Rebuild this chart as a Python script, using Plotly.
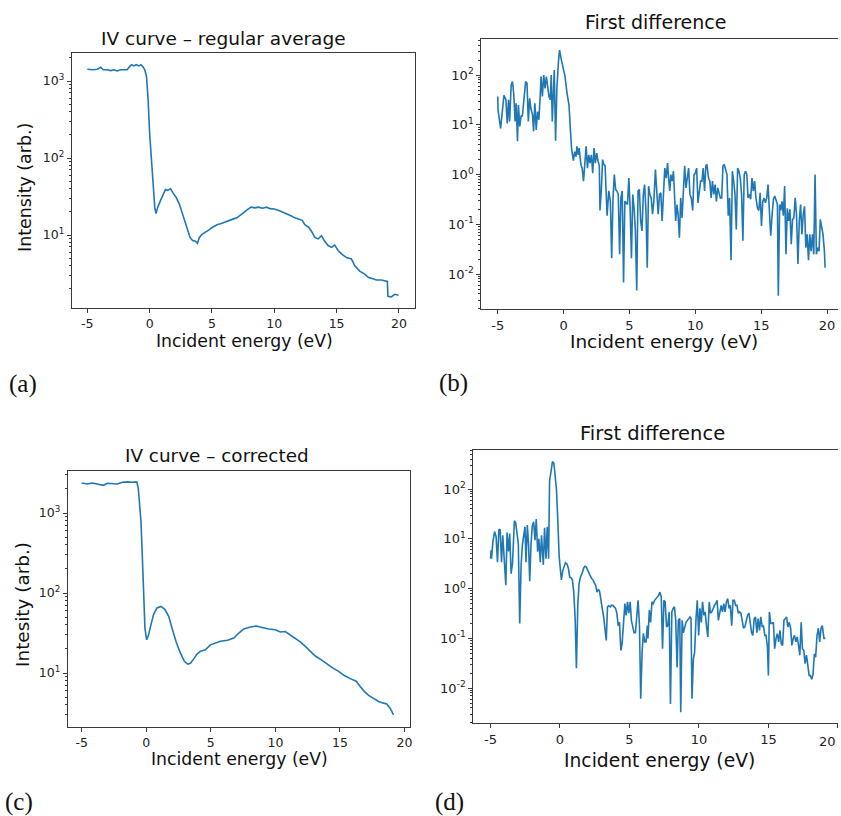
import plotly.graph_objects as go

# ---------------- data ----------------
# (a) IV curve - regular average
a_energy = [-5.0, -4.81, -4.55, -4.2, -3.93, -3.72, -3.4, -3.13, -2.87, -2.6, -2.33, -2.07, -1.8,
            -1.61, -1.45, -1.27, -1.08, -0.87, -0.71, -0.55, -0.39, -0.25, -0.12, 0.0, 0.13, 0.27,
            0.41, 0.51, 0.65, 0.87, 1.08, 1.27, 1.45, 1.67, 1.88, 2.12, 2.39, 2.65, 2.87, 3.05, 3.24,
            3.45, 3.67, 3.83, 3.99, 4.2, 4.47, 4.73, 5.05, 5.4, 5.75, 6.07, 6.39, 6.73, 7.0, 7.27,
            7.44, 7.79, 8.13, 8.45, 8.72, 9.04, 9.39, 9.65, 10.0, 10.32, 10.64, 10.99, 11.33, 11.65,
            11.97, 12.24, 12.45, 12.77, 13.04, 13.25, 13.52, 13.79, 14.0, 14.32, 14.59, 14.85, 15.12,
            15.44, 15.79, 16.19, 16.45, 16.85, 17.25, 17.57, 17.92, 18.19, 18.59, 18.99, 19.07, 19.12,
            19.39, 19.65, 19.97]
a_intensity = [1420, 1400, 1400, 1420, 1510, 1400, 1400, 1365, 1400, 1350, 1400, 1400, 1400,
               1540, 1630, 1570, 1630, 1570, 1630, 1540, 1400, 1140, 565, 208, 93, 42,
               23, 19, 23, 28, 34, 39, 38, 40, 35, 31, 25, 18.7, 15, 11.5, 9.3,
               8.5, 8.3, 7.8, 9.3, 10.2, 10.8, 11.6, 12.6, 13.6, 14.1, 14.8, 15.7, 16.2, 16.7, 17.8,
               19, 21, 23, 22.5, 23, 22.3, 23, 22, 21.8, 21, 20, 18.7, 17.8, 16.7,
               16.2, 15.5, 13.6, 12.6, 10.8, 9.3, 8.9, 9.8, 8.5, 7.3, 6.9, 7.4, 6.3,
               5.6, 5.1, 4.9, 4.0, 3.4, 3.1, 2.8, 2.7, 2.6, 2.6, 2.55, 2.5, 1.6,
               1.57, 1.7, 1.65]

# (b) first difference of (a)
b_energy = [-5.0, -4.98, -4.78, -4.63, -4.53, -4.38, -4.28, -4.18, -4.1, -3.98, -3.88, -3.78, -3.68,
            -3.6, -3.5, -3.43, -3.33, -3.23, -3.13, -3.03, -2.88, -2.78, -2.68, -2.58, -2.48, -2.36,
            -2.28, -2.18, -2.08, -1.98, -1.88, -1.78, -1.71, -1.61, -1.51, -1.41, -1.31, -1.21, -1.11,
            -1.01, -0.94, -0.86, -0.79, -0.71, -0.61, -0.51, -0.39, -0.31, -0.19, -0.04, 0.11, 0.26,
            0.41, 0.51, 0.61, 0.74, 0.84, 0.94, 1.01, 1.11, 1.18, 1.31, 1.41, 1.51, 1.61, 1.71, 1.81,
            1.91, 2.01, 2.11, 2.21, 2.31, 2.41, 2.51, 2.61, 2.71, 2.76, 2.86, 2.96, 3.05, 3.15, 3.2,
            3.3, 3.43, 3.55, 3.65, 3.75, 3.85, 3.95, 4.05, 4.15, 4.25, 4.35, 4.45, 4.55, 4.65, 4.75,
            4.85, 4.95, 5.05, 5.15, 5.25, 5.35, 5.45, 5.55, 5.65, 5.75, 5.85, 5.95, 6.05, 6.15, 6.25,
            6.35, 6.45, 6.55, 6.65, 6.75, 6.85, 6.97, 7.08, 7.18, 7.28, 7.38, 7.48, 7.58, 7.68, 7.79,
            7.89, 7.99, 8.06, 8.14, 8.24, 8.34, 8.44, 8.51, 8.61, 8.69, 8.79, 8.89, 8.99, 9.09, 9.19,
            9.29, 9.39, 9.49, 9.59, 9.69, 9.8, 9.9, 10.0, 10.1, 10.2, 10.3, 10.4, 10.5, 10.6, 10.7,
            10.8, 10.88, 11.0, 11.1, 11.2, 11.3, 11.4, 11.5, 11.6, 11.7, 11.8, 11.9, 12.0, 12.1, 12.2,
            12.3, 12.4, 12.5, 12.6, 12.71, 12.81, 12.91, 13.01, 13.11, 13.21, 13.31, 13.41, 13.51,
            13.61, 13.71, 13.81, 13.91, 14.0, 14.1, 14.2, 14.3, 14.4, 14.5, 14.6, 14.72, 14.82, 14.92,
            15.02, 15.12, 15.22, 15.32, 15.42, 15.52, 15.62, 15.72, 15.83, 15.93, 16.03, 16.13, 16.23,
            16.3, 16.4, 16.48, 16.58, 16.68, 16.78, 16.88, 16.98, 17.08, 17.18, 17.28, 17.38, 17.48,
            17.58, 17.68, 17.79, 17.89, 17.99, 18.09, 18.19, 18.29, 18.39, 18.49, 18.59, 18.69, 18.79,
            18.89, 18.99, 19.09, 19.19, 19.29, 19.39, 19.49, 19.59, 19.69, 19.8, 19.85]
b_diff = [37, 20, 8.5, 27, 39, 32, 10.7, 32, 11.7, 63, 74, 40, 11.7,
          27, 4.7, 25, 9.3, 15, 15, 29, 74, 68, 11.7, 34, 21, 16,
          7.4, 27, 7.9, 18.5, 12.6, 36, 93, 37, 100, 54, 93, 59, 37,
          32, 100, 11.7, 40, 126, 4.8, 54, 186, 316, 214, 148, 93, 43,
          25, 8.5, 3.2, 1.9, 2.9, 2.3, 3.7, 2.5, 3.4, 1.6, 1.35, 0.74, 1.5, 3.7, 1.35,
          2.5, 1.7, 2.5, 1.07, 3.4, 1.7, 2.7, 1.9, 1.5, 0.19, 0.47, 2.0, 1.6, 1.5, 0.85,
          0.15, 0.47, 0.29, 0.021, 0.34, 1.0, 0.5, 0.47, 0.4, 0.025, 0.34, 0.47, 0.0068, 0.29, 0.27,
          0.25, 0.85, 0.21, 0.021, 0.4, 0.21, 0.074, 0.0047, 0.47, 0.5, 0.117, 0.074, 0.4, 0.63, 0.19,
          0.0135, 0.59, 0.4, 0.34, 0.16, 0.29, 1.26, 0.47, 0.16, 0.4, 0.43, 0.117, 0.47, 1.35, 0.85,
          1.7, 0.74, 0.47, 1.0, 0.74, 1.17, 0.4, 0.117, 0.25, 0.16, 0.054, 0.34, 0.135, 0.47, 1.5,
          0.54, 0.85, 1.35, 0.4, 0.34, 0.19, 1.0, 1.07, 1.35, 0.27, 0.47, 0.74, 0.74, 1.35, 0.47,
          1.5, 1.6, 0.85, 0.74, 0.34, 0.74, 0.4, 0.63, 0.29, 0.54, 0.4, 0.34, 0.34, 1.5, 1.6,
          1.17, 1.0, 0.15, 0.34, 0.019, 1.17, 0.74, 0.4, 0.079, 1.35, 1.17, 0.85, 0.4,
          0.047, 1.0, 1.17, 1.0, 0.34, 0.4, 0.32, 0.85, 0.47, 0.74, 0.34, 0.21, 0.19, 0.43,
          0.093, 0.29, 0.34, 0.27, 0.34, 0.63, 0.25, 0.059, 0.16, 0.32, 0.37, 0.29, 0.25,
          0.0037, 0.25, 0.19, 0.29, 0.15, 0.59, 0.025, 0.21, 0.117, 0.2, 0.04, 0.126, 0.135,
          0.34, 0.16, 0.016, 0.117, 0.25, 0.063, 0.16, 0.23, 0.034, 0.063, 0.019, 0.063, 0.029,
          0.063, 0.025, 1.0, 0.025, 0.034, 0.029, 0.126, 0.093, 0.063, 0.029, 0.0135]

# (c) IV curve - corrected
c_energy = [-5.0, -4.56, -4.17, -3.79, -3.32, -3.01, -2.62, -2.24, -1.85, -1.46, -1.08, -0.74, -0.62,
            -0.52, -0.41, -0.31, -0.21, -0.1, 0.03, 0.18, 0.36, 0.57, 0.83, 1.14, 1.45, 1.74, 2.0,
            2.33, 2.64, 2.95, 3.21, 3.42, 3.68, 3.93, 4.2, 4.58, 4.97, 5.36, 5.75, 6.29, 6.78, 7.17,
            7.55, 8.07, 8.53, 8.97, 9.48, 10.0, 10.39, 10.77, 11.16, 11.55, 11.93, 12.32, 12.71, 13.09,
            13.53, 14.0, 14.46, 14.9, 15.34, 15.8, 16.26, 16.57, 16.88, 17.22, 17.6, 17.99, 18.38,
            18.63, 18.9, 19.15]
c_intensity = [2370, 2300, 2370, 2300, 2220, 2350, 2350, 2300, 2420, 2450, 2420, 2450, 2050,
               1400, 790, 302, 95, 36, 26, 30, 40, 54, 65, 68, 62, 51, 36,
               24, 17.8, 14, 12.9, 13.2, 15, 17.3, 18.7, 19.5, 22.5, 23.7, 25, 25.7, 27.4, 31.6,
               35.5, 37.6, 38.7, 37, 35.5, 34.8, 32.5, 33, 30, 27.4, 24.5, 21.5, 18.7, 16.3,
               14.7, 12.9, 11.5, 10.5, 9.3, 8.5, 7.9, 6.8, 5.9, 5.25, 4.8, 4.4, 4.2,
               4.1, 3.6, 3.0]

# (d) first difference of (c)
d_energy = [-5.0, -4.96, -4.93, -4.83, -4.71, -4.6, -4.5, -4.4, -4.31, -4.21, -4.12, -4.02, -3.9,
            -3.81, -3.71, -3.62, -3.52, -3.42, -3.35, -3.28, -3.19, -3.09, -3.0, -2.9, -2.8, -2.71,
            -2.61, -2.52, -2.45, -2.35, -2.26, -2.18, -2.09, -2.0, -1.9, -1.8, -1.71, -1.61, -1.52,
            -1.42, -1.33, -1.2, -1.11, -1.01, -0.92, -0.82, -0.75, -0.66, -0.54, -0.44, -0.35, -0.25,
            -0.16, -0.06, 0.04, 0.1, 0.2, 0.3, 0.39, 0.51, 0.61, 0.7, 0.8, 0.89, 0.99, 1.09, 1.18,
            1.28, 1.37, 1.47, 1.54, 1.61, 1.71, 1.8, 1.9, 1.99, 2.09, 2.18, 2.28, 2.37, 2.47, 2.57,
            2.66, 2.76, 2.85, 2.95, 3.04, 3.14, 3.23, 3.33, 3.42, 3.52, 3.62, 3.71, 3.81, 3.9, 4.0,
            4.09, 4.19, 4.28, 4.38, 4.47, 4.57, 4.67, 4.76, 4.86, 4.95, 5.05, 5.14, 5.24, 5.33, 5.43,
            5.52, 5.62, 5.72, 5.81, 5.91, 6.0, 6.1, 6.19, 6.29, 6.33, 6.43, 6.52, 6.62, 6.71, 6.81,
            6.9, 7.0, 7.1, 7.19, 7.29, 7.38, 7.48, 7.57, 7.67, 7.76, 7.86, 7.95, 8.05, 8.14, 8.24,
            8.33, 8.43, 8.52, 8.62, 8.69, 8.79, 8.88, 8.98, 9.07, 9.17, 9.26, 9.36, 9.43, 9.5, 9.6,
            9.69, 9.79, 9.88, 9.98, 10.07, 10.17, 10.26, 10.36, 10.45, 10.55, 10.64, 10.74, 10.83,
            10.93, 11.02, 11.12, 11.21, 11.31, 11.4, 11.5, 11.6, 11.69, 11.79, 11.88, 11.98, 12.07,
            12.17, 12.26, 12.36, 12.45, 12.55, 12.64, 12.74, 12.83, 12.93, 13.02, 13.12, 13.21, 13.31,
            13.4, 13.5, 13.6, 13.69, 13.79, 13.88, 13.98, 14.07, 14.17, 14.26, 14.36, 14.45, 14.55,
            14.64, 14.74, 14.83, 14.93, 15.0, 15.07, 15.17, 15.26, 15.36, 15.45, 15.55, 15.64, 15.74,
            15.83, 15.93, 16.02, 16.12, 16.21, 16.31, 16.4, 16.5, 16.6, 16.69, 16.79, 16.88, 16.98,
            17.07, 17.17, 17.26, 17.36, 17.45, 17.55, 17.64, 17.74, 17.83, 17.93, 18.02, 18.12, 18.21,
            18.31, 18.4, 18.5, 18.6, 18.69, 18.79, 18.88, 19.0, 19.1]
d_diff = [4.0, 5.9, 4.0, 8.7, 14, 11, 3.4, 15, 15.6, 3.4, 11.8, 3.4, 1.17,
          13.4, 5.6, 12.7, 2.0, 3.2, 9.4, 23, 21, 11.8, 8.0, 0.2, 2.9, 7.4,
          11, 17.5, 3.4, 19, 7.4, 1.4, 7.4, 17.5, 22, 9.4, 25, 5.5, 10,
          3.4, 11.8, 3.0, 16.7, 4.0, 17.5, 4.0, 145, 224, 355, 330, 208, 95,
          24, 4.4, 2.2, 1.5, 2.3, 2.9, 3.3, 3.1, 2.5, 1.7, 1.64, 1.5, 0.85, 0.25, 0.025,
          0.46, 1.26, 1.7, 2.0, 2.1, 2.6, 2.8, 2.7, 2.3, 2.0, 1.8, 1.6, 1.5, 1.3, 1.17,
          0.85, 0.97, 0.88, 0.63, 0.4, 0.27, 0.16, 0.091, 0.43, 0.45, 0.43, 0.46, 0.46, 0.43, 0.4,
          0.32, 0.18, 0.21, 0.057, 0.078, 0.25, 0.5, 0.29, 0.54, 0.32, 0.54, 0.23, 0.17, 0.13, 0.13,
          0.32, 0.58, 0.18, 0.0061, 0.053, 0.126, 0.085, 0.085, 0.18, 0.1, 0.37, 0.21, 0.54, 0.5, 0.58,
          0.63, 0.68, 0.73, 0.85, 0.68, 0.062, 0.58, 0.54, 0.17, 0.18, 0.34, 0.0048, 0.34, 0.4, 0.43,
          0.23, 0.026, 0.23, 0.25, 0.0033, 0.23, 0.13, 0.17, 0.21, 0.23, 0.25, 0.27, 0.25, 0.0061, 0.039,
          0.053, 0.25, 0.58, 0.115, 0.4, 0.21, 0.54, 0.29, 0.34, 0.17, 0.107, 0.54, 0.32,
          0.34, 0.4, 0.46, 0.5, 0.58, 0.23, 0.37, 0.46, 0.34, 0.5, 0.34, 0.54, 0.63,
          0.4, 0.46, 0.18, 0.58, 0.58, 0.46, 0.46, 0.32, 0.34, 0.32, 0.21, 0.16, 0.17,
          0.23, 0.29, 0.32, 0.21, 0.13, 0.115, 0.25, 0.27, 0.13, 0.25, 0.145, 0.27, 0.17,
          0.18, 0.115, 0.115, 0.067, 0.018, 0.34, 0.2, 0.2, 0.21, 0.062, 0.1, 0.124, 0.085,
          0.145, 0.078, 0.072, 0.23, 0.25, 0.27, 0.17, 0.21, 0.16, 0.072, 0.1, 0.115, 0.085,
          0.107, 0.072, 0.046, 0.21, 0.062, 0.057, 0.031, 0.046, 0.028, 0.018, 0.018, 0.015, 0.019,
          0.049, 0.042, 0.115, 0.16, 0.085, 0.16, 0.18, 0.1, 0.1]

x_tick_vals = [-5, 0, 5, 10, 15, 20]
x_tick_text = ["-5", "0", "5", "10", "15", "20"]

titles = ["IV curve \u2013 regular average", "First difference",
          "IV curve \u2013 corrected", "First difference"]
x_title = "Incident energy (eV)"
y_titles = ["Intensity (arb.)", "Intesity (arb.)"]
panel_tags = ["(a)", "(b)", "(c)", "(d)"]

# ---------------- figure ----------------
W, H = 841, 816
LINE = "#1f77b4"
AX = "#3a3a3a"
FONT = "DejaVu Sans"


def px(x):
    return x / W


def py(y):
    return 1 - y / H


def log_ticks(lo, hi):
    major = [10 ** k for k in range(lo, hi + 1)]
    text = ["10<sup>%d</sup>" % k for k in range(lo, hi + 1)]
    minor = [m * 10 ** k for k in range(lo - 1, hi + 1) for m in range(2, 10)]
    return major, text, minor


fig = go.Figure()
series = [(a_energy, a_intensity), (b_energy, b_diff), (c_energy, c_intensity), (d_energy, d_diff)]
for i, (xs, ys) in enumerate(series):
    fig.add_trace(go.Scatter(x=xs, y=ys, mode="lines", line=dict(color=LINE, width=1.6),
                             xaxis="x" if i == 0 else "x%d" % (i + 1),
                             yaxis="y" if i == 0 else "y%d" % (i + 1),
                             showlegend=False, hoverinfo="skip"))

# plot area boxes in pixels: left, right, top, bottom
boxes = [(72, 416, 53, 308), (483, 841, 39, 309), (68, 411, 471, 727), (475, 841, 450, 723)]
x_ranges = [[-6.25, 21.25], [-6.25, 20.83], [-6.08, 20.39], [-6.24, 20.01]]
y_ranges = [[0.052, 3.364], [-2.70, 2.724], [0.325, 3.525], [-2.70, 2.784]]
y_decades = [(1, 3), (-2, 2), (1, 3), (-2, 2)]
tick_sizes = [12.5, 13, 12.5, 13]

layout = dict(width=W, height=H, margin=dict(l=0, r=0, t=0, b=0),
              plot_bgcolor="white", paper_bgcolor="white", showlegend=False)
for i in range(4):
    l, r, t, b = boxes[i]
    full = i in (0, 2)
    sx = "xaxis" if i == 0 else "xaxis%d" % (i + 1)
    sy = "yaxis" if i == 0 else "yaxis%d" % (i + 1)
    ax_id = "x" if i == 0 else "x%d" % (i + 1)
    ay_id = "y" if i == 0 else "y%d" % (i + 1)
    major, text, minor = log_ticks(*y_decades[i])
    # the last x tick label of (d) sits on the page edge; it is drawn as an annotation below
    ttext = x_tick_text[:-1] + [""] if i == 3 else x_tick_text
    layout[sx] = dict(domain=[px(l), min(1.0, px(r))], range=x_ranges[i], anchor=ay_id,
                      showline=True, linecolor=AX, linewidth=1, mirror=True,
                      ticks="outside", ticklen=4, tickcolor=AX, tickwidth=1,
                      tickmode="array", tickvals=x_tick_vals, ticktext=ttext,
                      showgrid=False, zeroline=False,
                      tickfont=dict(family=FONT, size=tick_sizes[i], color="#222"))
    layout[sy] = dict(domain=[py(b), py(t)], range=y_ranges[i], type="log", anchor=ax_id,
                      showline=True, linecolor=AX, linewidth=1, mirror=full,
                      ticks="outside", ticklen=4, tickcolor=AX, tickwidth=1,
                      tickmode="array", tickvals=major, ticktext=text,
                      minor=dict(tickmode="array", tickvals=minor, ticks="outside",
                                 ticklen=2, tickcolor=AX, tickwidth=1, showgrid=False),
                      showgrid=False, zeroline=False,
                      tickfont=dict(family=FONT, size=tick_sizes[i], color="#222"))
fig.update_layout(**layout)

ann = []
# titles
title_pos = [(224, 38, 18.5), (658, 22, 19), (218, 455, 18.4), (655, 433, 19.5)]
for i, (x, y, s) in enumerate(title_pos):
    ann.append(dict(text=titles[i], x=px(x), y=py(y), font=dict(family=FONT, size=s, color="#111")))
# x axis titles
xt_pos = [(245, 341, 17.3), (666, 341, 18.4), (240, 759, 17.3), (662, 760, 18.7)]
for x, y, s in xt_pos:
    ann.append(dict(text=x_title, x=px(x), y=py(y), font=dict(family=FONT, size=s, color="#111")))
# y axis titles
yt_pos = [(25, 187, 17.4), (22, 604, 18.4)]
for i, (x, y, s) in enumerate(yt_pos):
    ann.append(dict(text=y_titles[i], x=px(x), y=py(y), textangle=-90,
                    font=dict(family=FONT, size=s, color="#111")))
# panel tags
tag_pos = [(23, 384), (455, 383), (19, 802), (451, 802)]
for i, (x, y) in enumerate(tag_pos):
    ann.append(dict(text=panel_tags[i], x=px(x), y=py(y),
                    font=dict(family="Liberation Serif", size=25, color="#111")))
for a in ann:
    a.update(xanchor="center")
# last tick label of panel (d), right-aligned against the page edge
ann.append(dict(text=x_tick_text[-1], x=1.0, y=py(741), xanchor="right",
                font=dict(family=FONT, size=tick_sizes[3], color="#222")))
for a in ann:
    a.update(xref="paper", yref="paper", showarrow=False, yanchor="middle")
fig.update_layout(annotations=ann)

fig.write_html(
    "out.html", config={"displayModeBar": False},
    post_script="document.body.style.margin='0';document.body.style.overflow='hidden';")
